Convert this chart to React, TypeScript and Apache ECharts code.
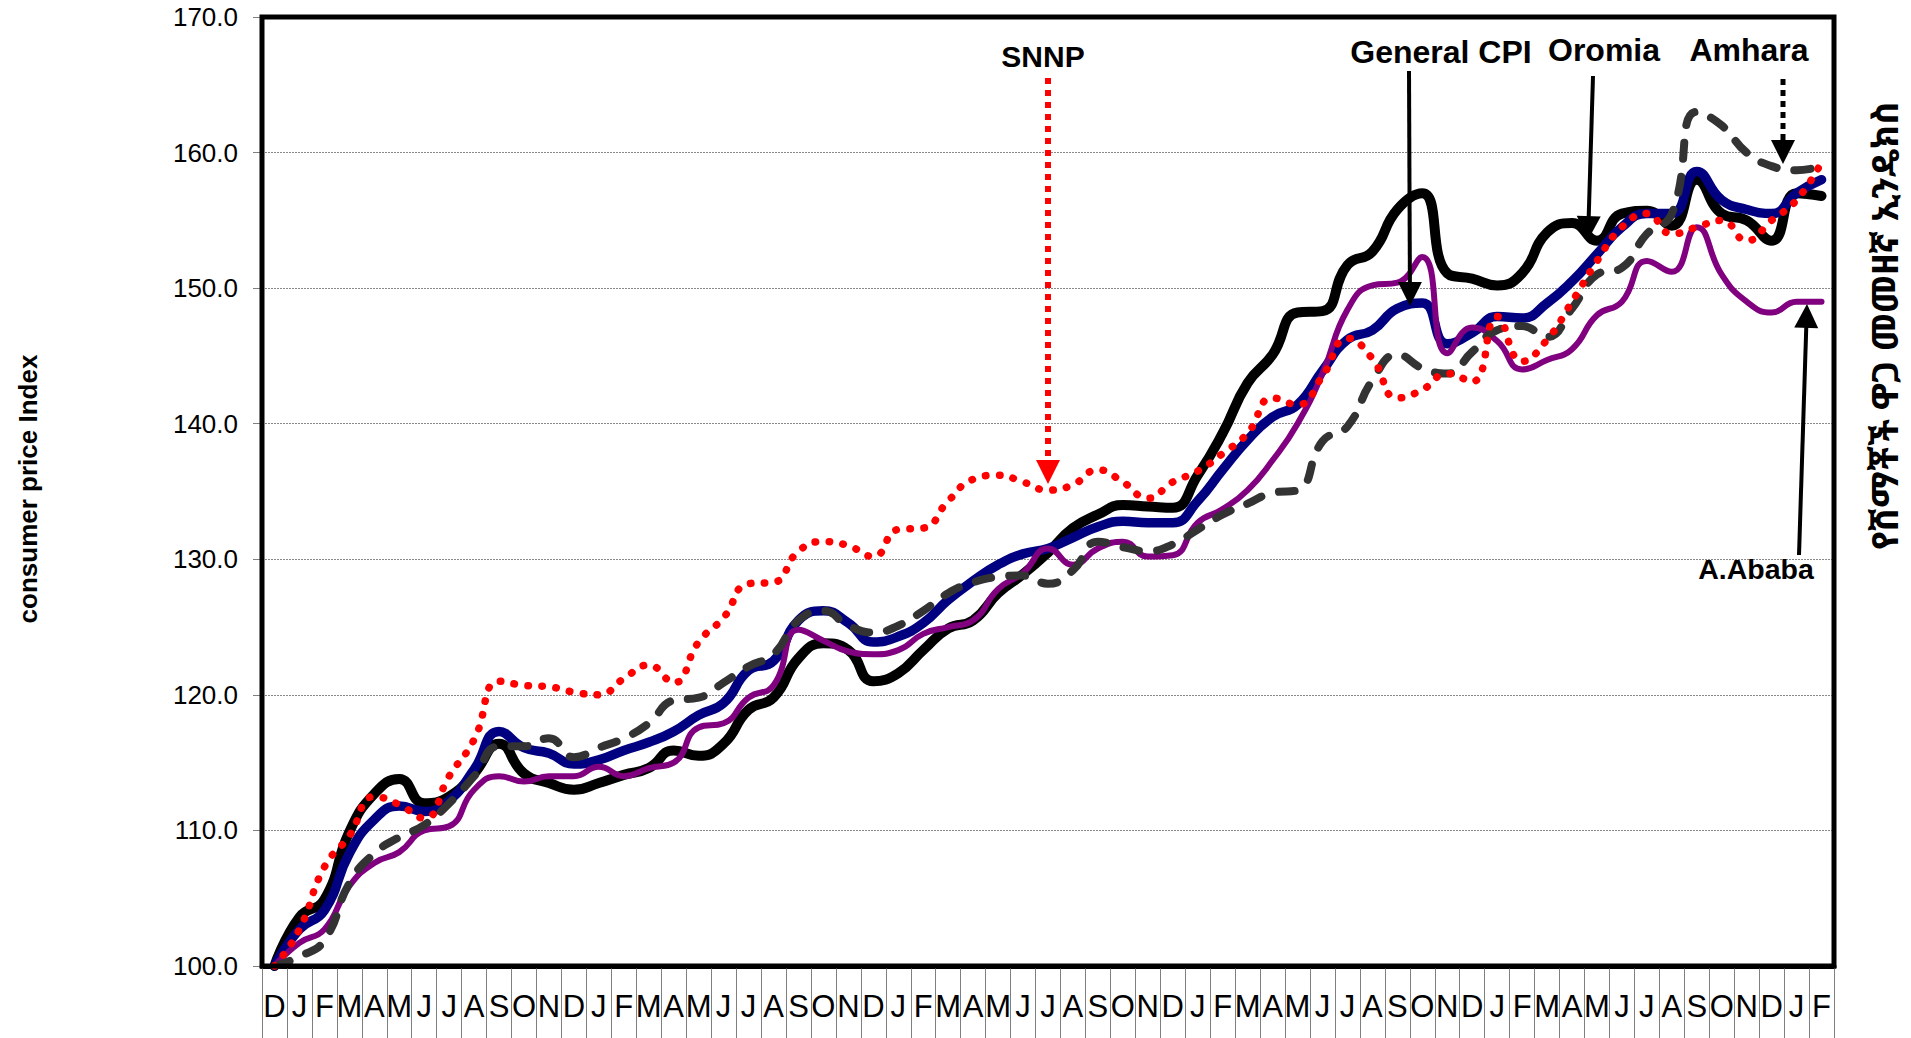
import React, { useEffect, useRef } from "react";
import * as echarts from "echarts";

const months: string[] = [
  "D",
  "J", "F", "M", "A", "M", "J", "J", "A", "S", "O", "N", "D",
  "J", "F", "M", "A", "M", "J", "J", "A", "S", "O", "N", "D",
  "J", "F", "M", "A", "M", "J", "J", "A", "S", "O", "N", "D",
  "J", "F", "M", "A", "M", "J", "J", "A", "S", "O", "N", "D",
  "J", "F", "M", "A", "M", "J", "J", "A", "S", "O", "N", "D",
  "J", "F",
];

const oromia: number[] = [
  100, 103.6, 104.9, 109.9, 112.7, 113.8, 112.0, 112.5, 114.2, 116.4, 114.2, 113.5, 113.0,
  113.5, 114.1, 114.6, 115.9, 115.5, 116.4, 118.9, 119.8, 122.7, 123.8, 123.3, 121.0,
  121.6, 123.3, 124.9, 125.5, 127.5, 128.9, 130.5, 132.3, 133.3, 134.0, 133.9, 133.8,
  136.2, 139.3, 143.0, 145.1, 148.2, 148.3, 151.7, 152.7, 155.8, 157.0, 151.1, 150.7,
  150.2, 151.1, 154.1, 154.8, 153.5, 155.5, 155.7, 154.6, 158.0, 155.5, 155.0, 153.5,
  157.0, 156.8,
];

const generalCpi: number[] = [
  100, 102.7, 104.1, 108.3, 110.8, 111.8, 111.4, 112.2, 114.5, 117.3, 116.1, 115.7, 114.9,
  115.2, 115.9, 116.5, 117.3, 118.5, 119.4, 121.8, 122.5, 125.5, 126.2, 125.3, 123.9,
  124.3, 125.3, 127.0, 128.4, 129.6, 130.4, 130.8, 131.6, 132.4, 132.8, 132.7, 132.7,
  134.3, 136.6, 138.8, 140.5, 141.4, 143.9, 146.2, 146.9, 148.5, 148.9, 145.9, 146.7,
  147.9, 147.8, 148.9, 150.5, 152.5, 154.5, 155.5, 155.5, 158.6, 156.5, 155.8, 155.5,
  157.0, 158.0,
];

const aAbaba: number[] = [
  100, 101.7, 102.7, 105.9, 107.6, 108.4, 110.0, 110.3, 113.0, 114.0, 113.6, 114.0, 114.0,
  114.7, 114.0, 114.6, 115.0, 117.6, 117.9, 119.8, 120.7, 124.8, 124.0, 123.2, 123.0,
  123.3, 124.5, 125.0, 125.5, 127.8, 129.0, 130.8, 129.6, 130.8, 131.3, 130.2, 130.3,
  132.7, 133.7, 135.1, 137.3, 140.0, 143.7, 148.4, 150.2, 150.4, 152.3, 145.2, 147.1,
  146.1, 144.0, 144.7, 145.5, 148.0, 149.0, 152.0, 151.2, 154.5, 151.0, 149.0, 148.2,
  149.0, 149.0,
];

const amhara: number[] = [
  100, 100.7, 101.9, 106.1, 108.3, 109.5, 110.4, 112.0, 114.0, 116.2, 116.2, 116.8, 115.4,
  116.1, 116.8, 117.9, 119.6, 119.8, 120.9, 122.1, 123.0, 125.5, 126.2, 125.1, 124.6,
  125.1, 126.2, 127.5, 128.3, 128.7, 128.8, 128.2, 129.2, 131.3, 130.9, 130.6, 131.1,
  132.2, 133.3, 134.1, 134.9, 135.1, 138.7, 139.8, 143.2, 145.1, 144.1, 143.7, 145.3,
  146.9, 147.2, 146.4, 148.5, 151.0, 151.5, 154.0, 155.5, 163.0, 162.0, 160.0, 159.0,
  158.7, 159.0,
];

const snnp: number[] = [
  100, 102.7, 107.3, 109.6, 112.5, 111.9, 110.9, 114.0, 116.7, 121.0, 120.7, 120.6, 120.2,
  120.0, 121.2, 122.2, 120.9, 123.9, 125.7, 128.2, 128.3, 130.6, 131.3, 131.0, 130.2,
  132.2, 132.3, 134.3, 135.9, 136.2, 135.7, 135.1, 135.5, 136.6, 135.7, 134.5, 135.7,
  136.5, 137.8, 139.3, 141.9, 141.4, 143.5, 146.3, 144.8, 141.9, 142.5, 143.7, 143.1,
  147.9, 144.6, 146.2, 149.0, 152.0, 154.5, 155.5, 154.0, 154.5, 155.0, 153.5, 155.0,
  156.5, 159.3,
];

const yTitle = "consumer price Index";
const rightTitle = "የሸማቾች ዋጋ መመዘኛ ኢንዴክስ";

const FONT = "'Liberation Sans', Arial, Helvetica, sans-serif";

function label(text: string, x: number, y: number, size = 30) {
  return {
    type: "text",
    x,
    y,
    z: 100,
    style: {
      text,
      fill: "#000",
      font: `bold ${size}px ${FONT}`,
      align: "center",
      verticalAlign: "middle",
    },
  };
}

function arrow(x1: number, y1: number, x2: number, y2: number, color: string, dash: number[] | null, lw: number) {
  const head = 24;
  const half = 12;
  const dx = x2 - x1;
  const dy = y2 - y1;
  const len = Math.sqrt(dx * dx + dy * dy);
  const ux = dx / len;
  const uy = dy / len;
  const bx = x2 - ux * head;
  const by = y2 - uy * head;
  const px = -uy;
  const py = ux;
  return [
    {
      type: "line",
      z: 100,
      shape: { x1, y1, x2: bx + ux * 2, y2: by + uy * 2 },
      style: { stroke: color, lineWidth: lw, lineDash: dash || undefined },
    },
    {
      type: "polygon",
      z: 100,
      shape: {
        points: [
          [bx + px * half, by + py * half],
          [bx - px * half, by - py * half],
          [x2, y2],
        ],
      },
      style: { fill: color },
    },
  ];
}

export default function App() {
  const ref = useRef<HTMLDivElement>(null);

  useEffect(() => {
    document.body.style.margin = "0";
    if (!ref.current) return;
    const chart = echarts.init(ref.current, undefined, { renderer: "svg" });

    const option: any = {
      animation: false,
      backgroundColor: "#fff",
      grid: {
        left: 262,
        right: 77,
        top: 17,
        bottom: 72,
        show: true,
        borderColor: "#000",
        borderWidth: 5,
        backgroundColor: "transparent",
        z: 10,
      },
      xAxis: {
        type: "category",
        data: months,
        boundaryGap: true,
        axisLine: { show: true, lineStyle: { color: "#000", width: 5 } },
        axisTick: {
          show: true,
          interval: 0,
          length: 75,
          lineStyle: { color: "#7f7f7f", width: 1 },
        },
        axisLabel: {
          interval: 0,
          fontSize: 31,
          fontFamily: FONT,
          color: "#000",
          margin: 25,
        },
        splitLine: { show: false },
      },
      yAxis: {
        type: "value",
        min: 100,
        max: 170,
        interval: 10,
        axisLine: { show: false },
        axisTick: { show: true, length: 9, lineStyle: { color: "#7f7f7f", width: 1 } },
        axisLabel: {
          fontSize: 26,
          fontFamily: FONT,
          color: "#000",
          margin: 24,
          formatter: (v: number) => v.toFixed(1),
        },
        splitLine: { show: true, lineStyle: { color: "#8a8a8a", width: 1, type: [2, 1] } },
      },
      series: [
        {
          name: "Oromia",
          type: "line",
          data: oromia,
          smooth: 0.5,
          showSymbol: false,
          lineStyle: { color: "#000000", width: 10, cap: "round", join: "round" },
          z: 2,
        },
        {
          name: "General CPI",
          type: "line",
          data: generalCpi,
          smooth: 0.5,
          showSymbol: false,
          lineStyle: { color: "#000080", width: 9.5, cap: "round", join: "round" },
          z: 3,
        },
        {
          name: "A.Ababa",
          type: "line",
          data: aAbaba,
          smooth: 0.5,
          showSymbol: false,
          lineStyle: { color: "#800080", width: 6, cap: "round", join: "round" },
          z: 4,
        },
        {
          name: "Amhara",
          type: "line",
          data: amhara,
          smooth: 0.5,
          showSymbol: false,
          lineStyle: { color: "#333333", width: 8, type: [16, 18], cap: "round", join: "round" },
          z: 5,
        },
        {
          name: "SNNP",
          type: "line",
          data: snnp,
          smooth: 0.5,
          showSymbol: false,
          lineStyle: { color: "#ff0000", width: 7.5, type: [0.5, 13.5], cap: "round", join: "round" },
          z: 6,
        },
      ],
      graphic: [
        {
          type: "text",
          x: 28,
          y: 489,
          rotation: Math.PI / 2,
          style: {
            text: yTitle,
            fill: "#000",
            font: `bold 26px ${FONT}`,
            align: "center",
            verticalAlign: "middle",
          },
        },
        {
          type: "text",
          x: 1884,
          y: 550,
          rotation: Math.PI / 2,
          style: {
            text: rightTitle,
            fill: "#000",
            font: `bold 36px 'Noto Sans Ethiopic', 'Abyssinica SIL', 'DejaVu Sans', 'Noto Sans', sans-serif`,
            align: "left",
            verticalAlign: "middle",
          },
        },
        label("SNNP", 1043, 56, 30),
        label("General CPI", 1441, 52, 32),
        label("Oromia", 1604, 50, 32),
        label("Amhara", 1749, 50, 32),
        label("A.Ababa", 1756, 569, 28.5),
        ...arrow(1048, 78, 1048, 484, "#ff0000", [6, 6], 6),
        ...arrow(1409, 71, 1410, 306, "#000", null, 4),
        ...arrow(1593, 76, 1588, 240, "#000", null, 4),
        ...arrow(1783, 79, 1783, 164, "#000", [6, 5], 5),
        ...arrow(1799, 555, 1807, 304, "#000", null, 4),
      ],
    };

    chart.setOption(option);
    return () => chart.dispose();
  }, []);

  return <div ref={ref} style={{ width: 1911, height: 1038 }} />;
}
